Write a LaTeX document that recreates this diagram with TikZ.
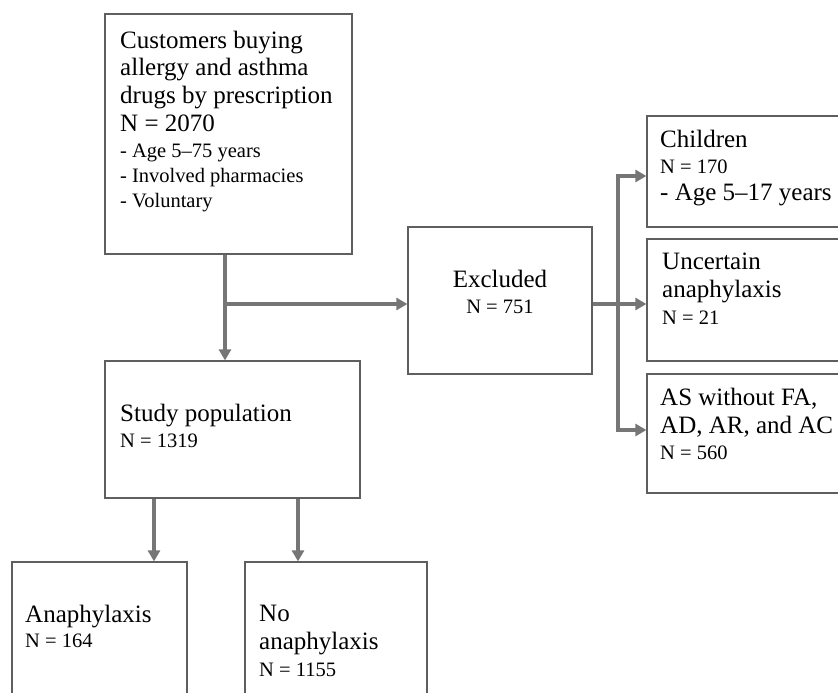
\documentclass[tikz,border=0pt]{standalone}
\usepackage{fontspec}
\setmainfont{Liberation Serif}
\usetikzlibrary{arrows.meta, positioning, calc}
\definecolor{boxgray}{RGB}{95,95,95}
\definecolor{arrowgray}{RGB}{118,118,118}
\newcommand{\bigtext}{\fontsize{25}{27.5}\selectfont}
\newcommand{\smalltext}{\fontsize{20.5}{25}\selectfont}

\begin{document}
\begin{tikzpicture}[x=1pt, y=-1pt,
	box/.style={draw=boxgray, line width=1.2pt, rectangle, inner sep=0pt},
	txt/.style={inner sep=0pt, align=left, anchor=base west, font=\bigtext},
	sub/.style={inner sep=0pt, align=left, anchor=base west, font=\smalltext},
	link/.style={draw=arrowgray, line width=4pt, line join=miter},
	arr/.style={link, -{Triangle[length=11pt,width=12pt]}}]

	\clip (0,0) rectangle (838,693);

	% boxes
	\node[box, minimum width=247, minimum height=240] at (228.5, 134) (start){};
	\node[box, minimum width=184, minimum height=147] at (500, 300.5) (excl){};
	\node[box, minimum width=213, minimum height=111] at (753.5, 171.5) (child){};
	\node[box, minimum width=213, minimum height=122] at (753.5, 300) (uncert){};
	\node[box, minimum width=213, minimum height=119] at (753.5, 433.5) (asgrp){};
	\node[box, minimum width=255, minimum height=137] at (232.5, 429.5) (study){};
	\node[box, minimum width=175, minimum height=160] at (99.5, 642) (ana){};
	\node[box, minimum width=182, minimum height=160] at (336, 642) (noana){};

	% texts (base = last line)
	\node[txt] at (120, 131) (starttxt){Customers buying\\allergy and asthma\\drugs by prescription\\N = 2070};
	\node[sub] at (120, 207) (startsub){- Age 5--75 years\\- Involved pharmacies\\- Voluntary};
	\node[txt, anchor=base] at (500, 287) (excltxt){Excluded};
	\node[sub, anchor=base] at (500, 313) (exclsub){N = 751};
	\node[txt] at (660, 147) (childtxt){Children};
	\node[sub] at (660, 173) (childsub){N = 170};
	\node[txt] at (660, 200) (childage){- Age 5--17 years};
	\node[txt] at (662, 297) (uncerttxt){Uncertain\\anaphylaxis};
	\node[sub] at (662, 324) (uncertsub){N = 21};
	\node[txt] at (660, 433) (asgrptxt){AS without FA,\\AD, AR, and AC};
	\node[sub] at (660, 459) (asgrpsub){N = 560};
	\node[txt] at (120, 421) (studytxt){Study population};
	\node[sub] at (120, 447) (studysub){N = 1319};
	\node[txt] at (25, 622) (anatxt){Anaphylaxis};
	\node[sub] at (25, 647) (anasub){N = 164};
	\node[txt] at (259, 649) (noanatxt){No\\anaphylaxis};
	\node[sub] at (259, 676) (noanasub){N = 1155};

	% connectors
	\coordinate (split) at (225, 304);
	\coordinate (fork) at (618, 304);
	\coordinate (forktop) at (618, 176);
	\coordinate (forkbot) at (618, 430);
	\coordinate (dropa) at (154, 0);
	\coordinate (dropb) at (298, 0);
	\draw[arr] (split |- start.south) -- (split |- study.north);
	\draw[arr] (split) -- (split -| excl.west);
	\draw[link] (fork -| excl.east) -- (fork);
	\draw[arr] (fork) -- (fork -| uncert.west);
	\draw[arr] (forkbot) -- (forktop) -- (forktop -| child.west);
	\draw[arr] (forktop) -- (forkbot) -- (forkbot -| asgrp.west);
	\draw[arr] (dropa |- study.south) -- (dropa |- ana.north);
	\draw[arr] (dropb |- study.south) -- (dropb |- noana.north);
\end{tikzpicture}
\end{document}
